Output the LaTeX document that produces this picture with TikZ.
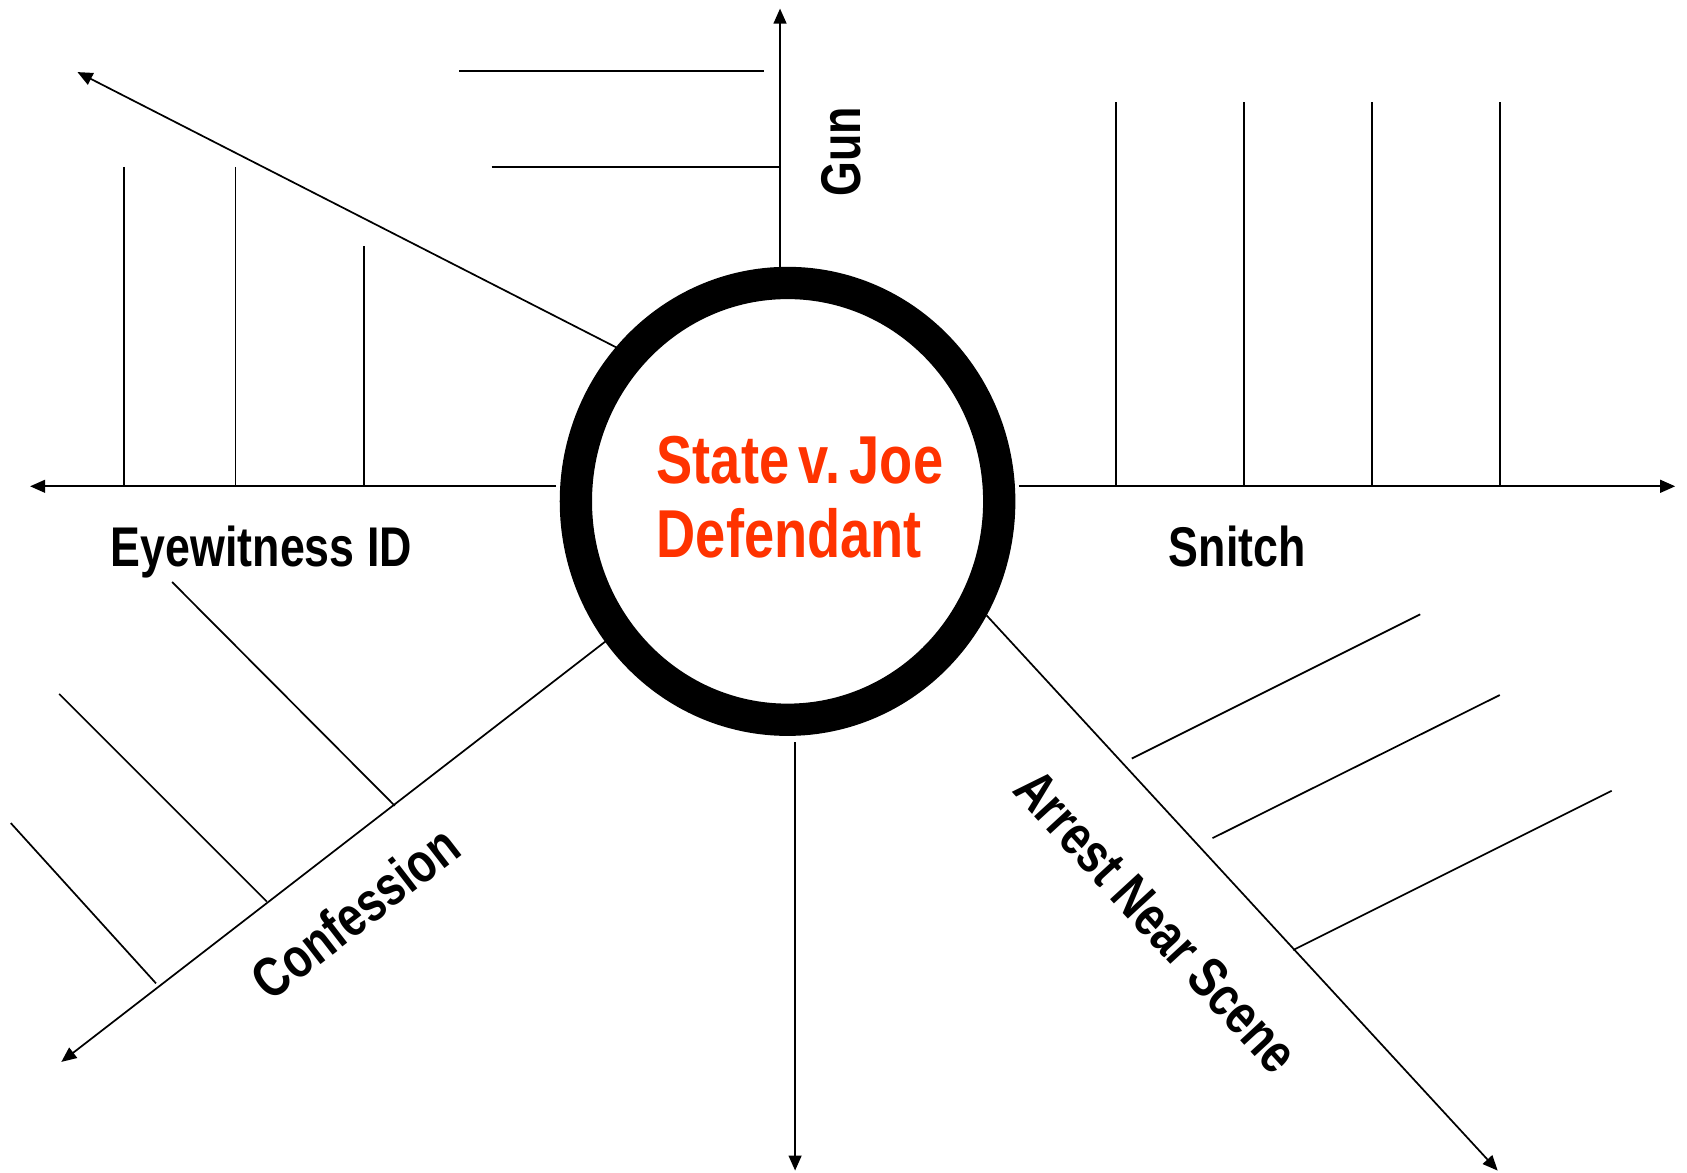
\documentclass[tikz,border=0pt]{standalone}
\usepackage{fontspec}
\newfontfamily\labelfont[FakeStretch=0.8]{Liberation Sans}
\usetikzlibrary{arrows.meta,shapes.geometric}
\definecolor{casered}{RGB}{255,51,0}
\begin{document}
\begin{tikzpicture}[x=0.5pt,y=-0.5pt,
  ln/.style={line width=0.8pt, line cap=butt},
  arr/.style={ln,-{Triangle[length=7pt,width=6pt]}},
  lbl/.style={font=\labelfont\bfseries\fontsize{26}{30}\selectfont, inner sep=0pt},
  redlbl/.style={font=\labelfont\bfseries\fontsize{31.5}{34}\selectfont, text=casered, inner sep=0pt, anchor=base west},
  ]
\fill[white] (0,0) rectangle (1568,1090);
\useasboundingbox (0,0) rectangle (1568,1090);

% central ring
\node[draw, ellipse, line width=15pt, minimum width=196.75pt, minimum height=203pt, inner sep=0pt] (case) at (732,466) {};
\node[redlbl] (title1) at (610,449) {State\hspace{4.5pt}v.\hspace{4.5pt}Joe};
\node[redlbl] (title2) at (610,518) {Defendant};

% coordinates
\coordinate (gunS) at (725,248);   \coordinate (gunE) at (725,8);
\coordinate (g1a) at (427,66);     \coordinate (g1b) at (710,66);
\coordinate (g2a) at (457,155);    \coordinate (g2b) at (725,155);

\coordinate (ulS) at (573,323);    \coordinate (ulE) at (72,67);

\coordinate (ewS) at (517,452);    \coordinate (ewE) at (28,452);
\coordinate (e1a) at (115,155);    \coordinate (e1b) at (115,452);
\coordinate (e2a) at (219,155);    \coordinate (e2b) at (219,452);
\coordinate (e3a) at (338,229);    \coordinate (e3b) at (338,452);

\coordinate (snS) at (947,452);    \coordinate (snE) at (1557,452);
\coordinate (s1a) at (1037,95);    \coordinate (s1b) at (1037,452);
\coordinate (s2a) at (1156,95);    \coordinate (s2b) at (1156,452);
\coordinate (s3a) at (1275,95);    \coordinate (s3b) at (1275,452);
\coordinate (s4a) at (1394,95);    \coordinate (s4b) at (1394,452);

\coordinate (coS) at (563,596);    \coordinate (coE) at (57,987);
\coordinate (c1a) at (160,541);    \coordinate (c1b) at (367,749);
\coordinate (c2a) at (55,645);     \coordinate (c2b) at (248,838);
\coordinate (c3a) at (10,765);     \coordinate (c3b) at (145,914);

\coordinate (btS) at (739,690);    \coordinate (btE) at (739,1088);

\coordinate (arS) at (917,572);    \coordinate (arE) at (1392,1088);
\coordinate (a1a) at (1052,705);   \coordinate (a1b) at (1320,571);
\coordinate (a2a) at (1127,779);   \coordinate (a2b) at (1394,646);
\coordinate (a3a) at (1202,883);   \coordinate (a3b) at (1498,735);

% Gun
\draw[arr] (gunS) -- (gunE);
\draw[ln] (g1a) -- (g1b);
\draw[ln] (g2a) -- (g2b);
\node[lbl, rotate=90, anchor=base] (gun) at (800,141) {Gun};

% upper-left
\draw[arr] (ulS) -- (ulE);

% Eyewitness ID
\draw[arr] (ewS) -- (ewE);
\draw[ln] (e1a) -- (e1b);
\draw[ln] (e2a) -- (e2b);
\draw[ln] (e3a) -- (e3b);
\node[lbl, anchor=base] (eye) at (243,527) {Eyewitness ID};

% Snitch
\draw[arr] (snS) -- (snE);
\draw[ln] (s1a) -- (s1b);
\draw[ln] (s2a) -- (s2b);
\draw[ln] (s3a) -- (s3b);
\draw[ln] (s4a) -- (s4b);
\node[lbl, anchor=base] (snitch) at (1150,527) {Snitch};

% Confession
\draw[arr] (coS) -- (coE);
\draw[ln] (c1a) -- (c1b);
\draw[ln] (c2a) -- (c2b);
\draw[ln] (c3a) -- (c3b);
\node[lbl, rotate=37.7] (conf) at (330,848) {Confession};

% bottom
\draw[arr] (btS) -- (btE);

% Arrest Near Scene
\draw[arr] (arS) -- (arE);
\draw[ln] (a1a) -- (a1b);
\draw[ln] (a2a) -- (a2b);
\draw[ln] (a3a) -- (a3b);
\node[lbl, rotate=-47.4] (arrest) at (1075,856) {Arrest Near Scene};
\end{tikzpicture}
\end{document}
